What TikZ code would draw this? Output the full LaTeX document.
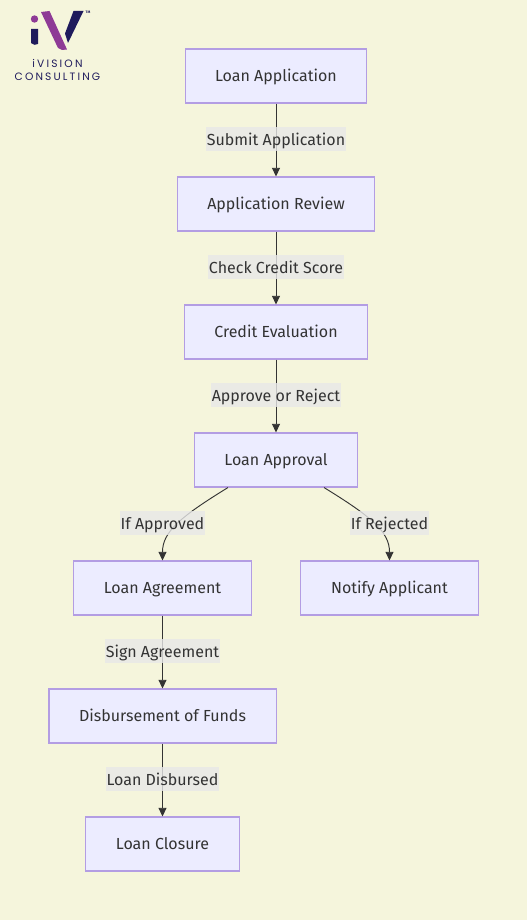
\documentclass[tikz,border=0pt]{standalone}
\usepackage{fontspec}
\setmainfont{Fira Sans}
\newfontfamily\logofont[LetterSpace=20]{Poppins}
\usetikzlibrary{arrows.meta}
\definecolor{pagebg}{HTML}{F5F5DC}
\definecolor{boxfill}{HTML}{ECECFF}
\definecolor{boxline}{HTML}{B39DE3}
\definecolor{ink}{HTML}{333333}
\definecolor{labelbg}{HTML}{E8E8E8}
\definecolor{logoviolet}{HTML}{8E3A96}
\definecolor{logonavy}{HTML}{1F1B5C}
\tikzset{
  x=0.75pt,y=-0.75pt,
  flowbox/.style={draw=boxline,fill=boxfill,line width=0.8pt,text=ink,font=\fontsize{12}{14}\selectfont,minimum height=40.5pt,inner sep=0pt,text height=10.1pt,text depth=1.9pt},
  flowline/.style={draw=ink,line width=0.7pt,-{Triangle[length=6.5pt,width=6pt]}},
  edgelabel/.style={fill=labelbg,fill opacity=0.8,text opacity=1,text=ink,font=\fontsize{12}{14}\selectfont,inner xsep=0.5pt,inner ysep=3pt,text height=11pt,text depth=1.2pt},
  logotext/.style={text=logonavy,font=\logofont\fontsize{8}{9}\selectfont,inner sep=0pt}
}
\begin{document}
\begin{tikzpicture}
\useasboundingbox[fill=pagebg] (0,0) rectangle (527,920);
% logo
\fill[logoviolet] (34.5,19) circle (3.7);
\fill[logonavy] (31,29) -- (38,29) -- (38,44) -- (34.5,44.8) -- (31,43) -- cycle;
\fill[logoviolet] (41,12) -- (49.5,11) -- (67,49.5) -- (62,50) -- (58,48) -- cycle;
\fill[logonavy] (73.5,11) -- (83.5,11) -- (68,43) -- (65,33.5) -- cycle;
\node[inner sep=0pt,text=logonavy,font=\fontsize{2.6}{3}\selectfont\bfseries] (logotm) at (88,12.5) {TM};
\node[logotext,anchor=base] (logoa) at (57.5,67.5) {iVISION};
\node[logotext,anchor=base] (logob) at (57.5,81) {CONSULTING};
% boxes
\node[flowbox,minimum width=136.2pt] (app) at (276,76) {Loan Application};
\node[flowbox,minimum width=147.8pt] (rev) at (276,204) {Application Review};
\node[flowbox,minimum width=137.8pt] (cre) at (276,332) {Credit Evaluation};
\node[flowbox,minimum width=122.2pt] (apr) at (276,460) {Loan Approval};
\node[flowbox,minimum width=132.9pt] (agr) at (162.5,588) {Loan Agreement};
\node[flowbox,minimum width=132.9pt] (rej) at (389.5,588) {Notify Applicant};
\node[flowbox,minimum width=170.3pt] (dis) at (162.5,716) {Disbursement of Funds};
\node[flowbox,minimum width=114.9pt] (clo) at (162.5,844) {Loan Closure};
% connectors
\draw[flowline] (app) -- (rev);
\draw[flowline] (rev) -- (cre);
\draw[flowline] (cre) -- (apr);
\draw[flowline] ([xshift=-36pt]apr.south) .. controls (180,517) and (162.5,532) .. (agr.north);
\draw[flowline] ([xshift=36pt]apr.south) .. controls (372,517) and (389.5,532) .. (rej.north);
\draw[flowline] (agr) -- (dis);
\draw[flowline] (dis) -- (clo);
% labels
\node[edgelabel] (l1) at (276,139) {Submit Application};
\node[edgelabel] (l2) at (276,267) {Check Credit Score};
\node[edgelabel] (l3) at (276,395) {Approve or Reject};
\node[edgelabel] (l4) at (162.5,523) {If Approved};
\node[edgelabel] (l5) at (389.5,523) {If Rejected};
\node[edgelabel] (l6) at (162.5,651) {Sign Agreement};
\node[edgelabel] (l7) at (162.5,779) {Loan Disbursed};
\end{tikzpicture}
\end{document}
